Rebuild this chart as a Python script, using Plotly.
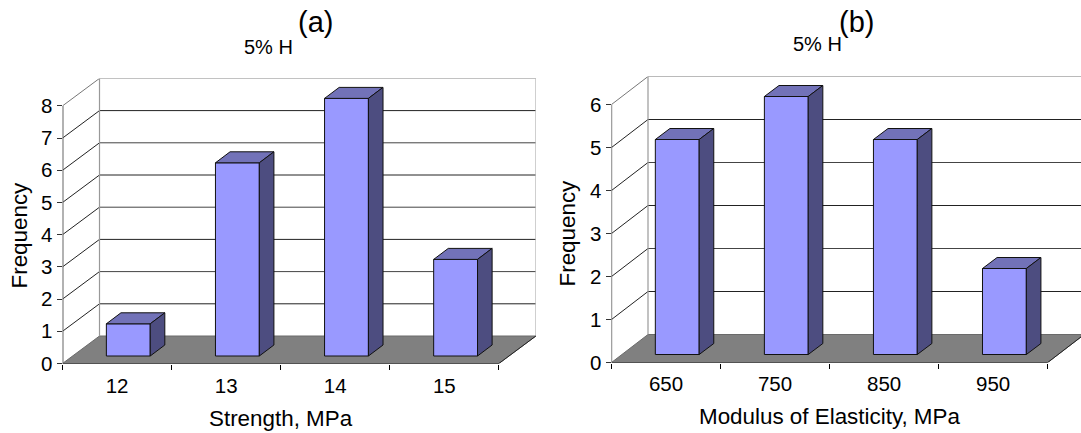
import numpy as np
import plotly.graph_objects as go

# ---- data ----
strength_categories = ["12", "13", "14", "15"]
strength_frequency = [1, 6, 8, 3]
modulus_categories = ["650", "750", "850", "950"]
modulus_frequency = [5, 6, 5, 2]
strength_y_ticks = list(range(0, 9))
modulus_y_ticks = list(range(0, 7))

W, H = 1081, 433
FONT = "Liberation Sans, Arial, sans-serif"
FRONT, TOP, SIDE, FLOOR = "#9999FF", "#7272B8", "#4D4D80", "#808080"
TICK_SIZE, TITLE_SIZE = 20.5, 22.4

fig = go.Figure()
shapes, annotations = [], []


def panel(suffix, cats, vals, yticks, x0, cat_w, y0, unit, wall_dx, wall_dy, px_right,
          depth_dx, depth_dy, lift_px, xtitle, xt_xy, yt_xy, title_xy, letter, letter_xy, axis_w, axis_c, standoff):
    xa, ya = "xaxis" + suffix, "yaxis" + suffix
    xr, yr = "x" + suffix, "y" + suffix
    n, ymax = len(cats), yticks[-1]
    dx, dy = wall_dx / cat_w, wall_dy / unit
    ddx, ddy = depth_dx / cat_w, depth_dy / unit
    lift = lift_px / unit
    xmax = (px_right - x0) / cat_w
    ytop = ymax + dy
    px_top = y0 - ytop * unit

    fig.update_layout({
        xa: dict(domain=[x0 / W, px_right / W], range=[0, xmax], anchor=yr, showgrid=False, zeroline=False,
                 showline=False, tickmode="array", tickvals=[i + 0.5 for i in range(n)], ticktext=cats,
                 ticks="", ticklabelstandoff=standoff,
                 tickfont=dict(family=FONT, size=TICK_SIZE, color="#000"),
                 minor=dict(tickmode="array", tickvals=list(range(n + 1)), ticks="outside", ticklen=5,
                            tickcolor="#000", tickwidth=1, showgrid=False)),
        ya: dict(domain=[1 - y0 / H, 1 - px_top / H], range=[0, ytop], anchor=xr, showgrid=False, zeroline=False,
                 showline=False, tickmode="array", tickvals=yticks, ticks="outside", ticklen=5,
                 tickcolor="#333", tickwidth=1, tickfont=dict(family=FONT, size=TICK_SIZE, color="#000")),
    })

    def line(xs, ys, color, width=1.0):
        shapes.append(dict(type="line", xref=xr, yref=yr, x0=xs[0], x1=xs[1], y0=ys[0], y1=ys[1],
                           layer="below", line=dict(color=color, width=width)))

    # floor
    shapes.append(dict(type="path", xref=xr, yref=yr, layer="below", fillcolor=FLOOR,
                       line=dict(color="#6a6a6a", width=1),
                       path=f"M0,0 L{n},0 L{n + dx},{dy} L{dx},{dy} Z"))
    # walls and gridlines
    for v in yticks[1:]:
        c = "#777" if v == ymax else "#222"
        line([0, dx], [v, v + dy], c)
        line([dx, xmax], [v + dy, v + dy], c if v % 2 or v == ymax else "#444")
    line([dx, dx], [dy, ytop], "#999", 1.2)
    if n + dx <= xmax:
        line([n + dx, n + dx], [dy, ytop], "#bbb", 1.2)
    line([n, min(n + dx, xmax)], [0, min(dy, (xmax - n) * dy / dx)], "#222")

    # bars
    centers = np.arange(n) + 0.603
    bw = 0.402
    fig.add_trace(go.Bar(x=centers, y=vals, base=lift, width=bw, xaxis=xr, yaxis=yr,
                         marker=dict(color=FRONT, line=dict(color="#111", width=1)),
                         hoverinfo="skip", showlegend=False))
    for c, v in zip(centers, vals):
        l, r, t = c - bw / 2, c + bw / 2, v + lift
        fig.add_trace(go.Scatter(x=[l, r, r + ddx, l + ddx, l], y=[t, t, t + ddy, t + ddy, t], fill="toself",
                                 fillcolor=TOP, mode="lines", line=dict(color="#111", width=1),
                                 xaxis=xr, yaxis=yr, hoverinfo="skip", showlegend=False))
        fig.add_trace(go.Scatter(x=[r, r + ddx, r + ddx, r, r], y=[lift, lift + ddy, t + ddy, t, lift],
                                 fill="toself", fillcolor=SIDE, mode="lines", line=dict(color="#111", width=1),
                                 xaxis=xr, yaxis=yr, hoverinfo="skip", showlegend=False))

    # axis lines
    fig.add_trace(go.Scatter(x=[0, n], y=[0, 0], mode="lines", line=dict(color="#000", width=1.2), cliponaxis=False,
                             xaxis=xr, yaxis=yr, hoverinfo="skip", showlegend=False))
    fig.add_trace(go.Scatter(x=[0, 0], y=[0, ymax], mode="lines", line=dict(color=axis_c, width=axis_w),
                             cliponaxis=False, xaxis=xr, yaxis=yr, hoverinfo="skip", showlegend=False))

    def text(s, px, py, size, angle=0):
        annotations.append(dict(text=s, x=px / W, y=1 - py / H, xref="paper", yref="paper", showarrow=False,
                                xanchor="center", yanchor="middle", textangle=angle,
                                font=dict(family=FONT, size=size, color="#000")))

    text(xtitle, xt_xy[0], xt_xy[1], TITLE_SIZE)
    text("Frequency", yt_xy[0], yt_xy[1], TITLE_SIZE, -90)
    text("5% H", title_xy[0], title_xy[1], 20)
    text(letter, letter_xy[0], letter_xy[1], 29)


panel("", strength_categories, strength_frequency, strength_y_ticks,
      62.5, 109.1, 363.5, 32.2, 37, 27.5, 536, 14.6, 11, 7.5,
      "Strength, MPa", (280.5, 418.5), (18.5, 235), (268, 47), "(a)", (315, 22), 2, "#666", 8)
panel("2", modulus_categories, modulus_frequency, modulus_y_ticks,
      611.5, 109.05, 362.5, 43, 36.5, 28, 1081, 14.6, 11, 8,
      "Modulus of Elasticity, MPa", (829, 416), (567.5, 233), (817, 44), "(b)", (856, 22), 1.3, "#444", 7)

fig.update_layout(width=W, height=H, margin=dict(l=0, r=0, t=0, b=0, autoexpand=False),
                  paper_bgcolor="white", plot_bgcolor="white",
                  showlegend=False, shapes=shapes, annotations=annotations, barmode="overlay")

fig.write_html("out.html", config={"displayModeBar": False},
               post_script="document.body.style.margin='0';document.body.style.overflow='hidden';")
